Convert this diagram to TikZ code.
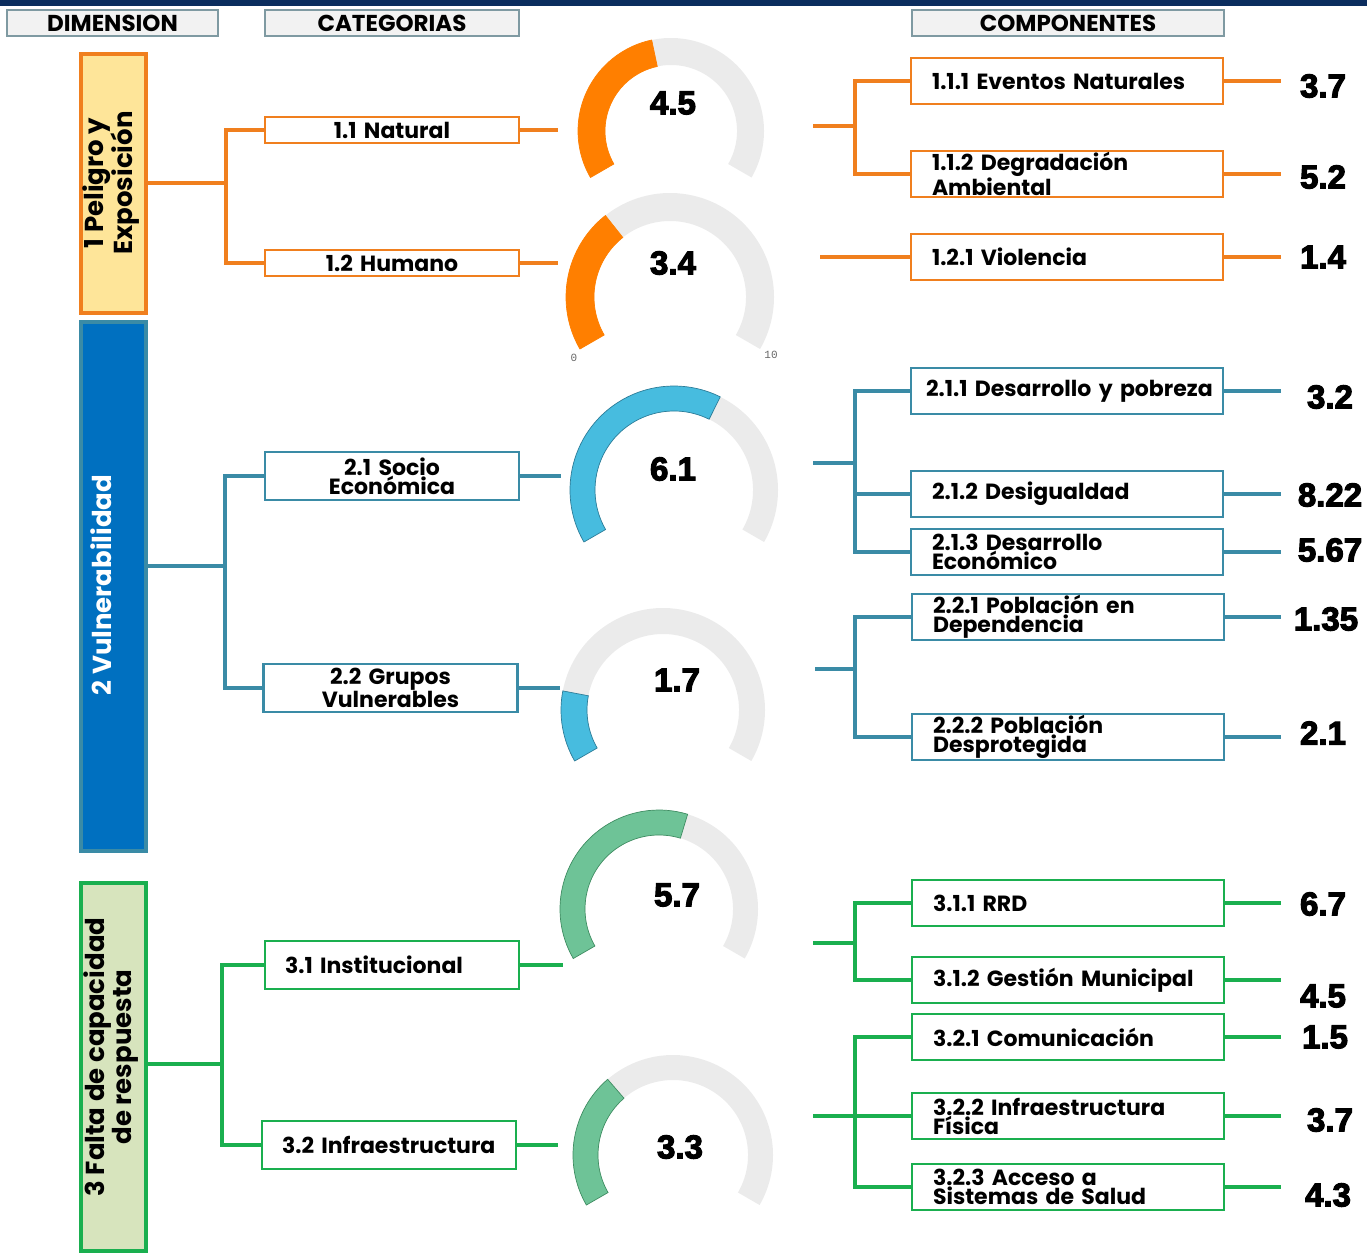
\documentclass[tikz,border=0pt]{standalone}
\usepackage{fontspec}
\setmainfont{Poppins}
\newfontfamily\numfont{Liberation Sans}[BoldFeatures={FakeBold=3.5}]
\newfontfamily\tickfont{Liberation Mono}
\definecolor{navy}{HTML}{0B2D5E}
\definecolor{hdrfill}{HTML}{F2F2F2}
\definecolor{hdrline}{HTML}{7F9AA2}
\definecolor{orgline}{HTML}{F07F1E}
\definecolor{orgfill}{HTML}{FEE599}
\definecolor{orggauge}{HTML}{FF7F00}
\definecolor{tealline}{HTML}{3A8BA6}
\definecolor{bluefill}{HTML}{0070C0}
\definecolor{bluegauge}{HTML}{47BCDF}
\definecolor{blueedge}{HTML}{2D7D99}
\definecolor{grnline}{HTML}{1AAF4F}
\definecolor{grnfill}{HTML}{D7E4BD}
\definecolor{grngauge}{HTML}{6EC397}
\definecolor{grnedge}{HTML}{3F8D62}
\definecolor{gaugegray}{HTML}{EBEBEB}
\newcommand{\mygauge}[6]{%
  \begin{scope}[shift={#1},yscale=-1]
    \fill[gaugegray] (210:#2) arc[start angle=210,end angle=-30,radius=#2]
      -- (-30:#3) arc[start angle=-30,end angle=210,radius=#3] -- cycle;
    \filldraw[fill=#5,draw=#6,line width=0.7pt] (210:#2) arc[start angle=210,end angle={210-24*#4},radius=#2]
      -- ({210-24*#4}:#3) arc[start angle={210-24*#4},end angle=210,radius=#3] -- cycle;
  \end{scope}}
\begin{document}
\begin{tikzpicture}[x=1pt,y=-1pt,
  con/.style={draw=#1,line width=4pt,line join=miter},
  hdr/.style={draw=hdrline,line width=2pt,fill=hdrfill,minimum width=#1,minimum height=26pt,inner sep=0pt,font=\bfseries\fontsize{23}{23}\selectfont},
  dimbox/.style 2 args={draw=#1,fill=#2,line width=4pt,minimum width=65pt,inner sep=0pt},
  dimtxt/.style={rotate=90,align=center,font=\bfseries\fontsize{26}{23}\selectfont},
  cat/.style={draw=#1,line width=2.5pt,fill=white,inner sep=0pt,minimum width=254pt,text width=230pt,align=center,minimum height=26pt,font=\bfseries\fontsize{22}{19}\selectfont},
  catl/.style={draw=#1,line width=2.5pt,fill=white,inner ysep=0pt,inner xsep=20pt,text width=214pt,align=left,minimum height=48pt,font=\bfseries\fontsize{22}{19}\selectfont},
  comp/.style={draw=#1,line width=2.5pt,fill=white,inner ysep=0pt,inner xsep=21pt,text width=270pt,align=left,minimum height=46pt,font=\bfseries\fontsize{22}{19}\selectfont},
  gnum/.style={font=\numfont\bfseries\fontsize{33}{33}\selectfont,inner sep=0pt},
  val/.style={font=\numfont\bfseries\fontsize{33}{33}\selectfont,inner sep=0pt},
  tick/.style={font=\tickfont\fontsize{11}{11}\selectfont,text=black!60,inner sep=0pt}]
\useasboundingbox (0,0) rectangle (1367,1254);
\fill[navy] (0,0) rectangle (1367,6);
% headers
\node[hdr=211pt] (hd) at (112.5,23) {DIMENSION};
\node[hdr=254pt] (hc) at (392,23) {CATEGORIAS};
\node[hdr=312pt] (hk) at (1068,23) {COMPONENTES};
% dimensions
\node[dimbox={orgline}{orgfill},minimum height=259pt] (d1) at (113.5,183.5) {};
\node[dimtxt] (d1t) at (111,183) {1 Peligro y\\Exposición};
\node[dimbox={tealline}{bluefill},minimum height=529pt] (d2) at (113.5,586.5) {};
\node[dimtxt,text=white] (d2t) at (101,585) {2 Vulnerabilidad};
\node[dimbox={grnline}{grnfill},minimum height=368pt] (d3) at (113.5,1067) {};
\node[dimtxt] (d3t) at (111,1057) {3 Falta de capacidad\\de respuesta};
% categories
\node[cat=orgline] (c11) at (392,130) {1.1 Natural};
\node[cat=orgline] (c12) at (392,263) {1.2 Humano};
\node[cat=tealline,minimum height=48pt] (c21) at (392,476) {2.1 Socio\\Económica};
\node[cat=tealline,minimum height=48pt] (c22) at (390.5,688) {2.2 Grupos\\Vulnerables};
\node[catl=grnline] (c31) at (392,965) {3.1 Institucional};
\node[catl=grnline] (c32) at (389,1145) {3.2 Infraestructura};
% components
\node[comp=orgline] (k111) at (1067,81) {1.1.1 Eventos Naturales};
\node[comp=orgline] (k112) at (1067,174) {1.1.2 Degradación\\Ambiental};
\node[comp=orgline] (k121) at (1067,257) {1.2.1 Violencia};
\node[comp=tealline,inner xsep=15pt,text width=282pt] (k211) at (1067,391) {\mbox{2.1.1 Desarrollo y pobreza}};
\node[comp=tealline] (k212) at (1067,494) {2.1.2 Desigualdad};
\node[comp=tealline] (k213) at (1067,552) {2.1.3 Desarrollo\\Económico};
\node[comp=tealline] (k221) at (1068,617) {2.2.1 Población en\\Dependencia};
\node[comp=tealline] (k222) at (1068,737) {2.2.2 Población\\Desprotegida};
\node[comp=grnline] (k311) at (1068,903) {3.1.1 RRD};
\node[comp=grnline] (k312) at (1068,980) {3.1.2 Gestión Municipal};
\node[comp=grnline] (k321) at (1068,1037) {3.2.1 Comunicación};
\node[comp=grnline] (k322) at (1068,1116) {3.2.2 Infraestructura\\Física};
\node[comp=grnline] (k323) at (1068,1187) {3.2.3 Acceso a\\Sistemas de Salud};
% gauges
\mygauge{(671,131)}{93}{66}{4.5}{orggauge}{orggauge}
\mygauge{(670,297)}{104}{76}{3.4}{orggauge}{orggauge}
\mygauge{(674,490)}{104}{79}{6.1}{bluegauge}{blueedge}
\mygauge{(663,710)}{102}{76}{1.7}{bluegauge}{blueedge}
\mygauge{(659,909)}{99}{74}{5.7}{grngauge}{grnedge}
\mygauge{(673,1155)}{100}{75}{3.3}{grngauge}{grnedge}
\node[gnum] (g1) at (673,103) {4.5};
\node[gnum] (g2) at (673,263) {3.4};
\node[gnum] (g3) at (673,469) {6.1};
\node[gnum] (g4) at (677,680) {1.7};
\node[gnum] (g5) at (677,895) {5.7};
\node[gnum] (g6) at (680,1147) {3.3};
\node[tick] (t0) at (574,358) {0};
\node[tick] (t10) at (771,355) {10};
% values
\node[val] (v111) at (1323,86) {3.7};
\node[val] (v112) at (1323,177) {5.2};
\node[val] (v121) at (1323,257) {1.4};
\node[val] (v211) at (1330,397) {3.2};
\node[val] (v212) at (1330,495) {8.22};
\node[val] (v213) at (1330,550) {5.67};
\node[val] (v221) at (1326,619) {1.35};
\node[val] (v222) at (1323,733) {2.1};
\node[val] (v311) at (1323,904) {6.7};
\node[val] (v312) at (1323,996) {4.5};
\node[val] (v321) at (1325,1037) {1.5};
\node[val] (v322) at (1330,1120) {3.7};
\node[val] (v323) at (1328,1195) {4.3};
% coordinates
\coordinate (J1) at (226,183);
\coordinate (J2) at (225,566);
\coordinate (J3) at (222,1064);
\coordinate (e11) at (558,130);
\coordinate (e12) at (558,263);
\coordinate (e21) at (561,476);
\coordinate (e22) at (560,688);
\coordinate (e31) at (563,965);
\coordinate (e32) at (558,1145);
\coordinate (t11) at (813,126);
\coordinate (j11) at (855,126);
\coordinate (t12) at (820,257);
\coordinate (t21) at (813,463);
\coordinate (j21) at (855,463);
\coordinate (t22) at (815,669);
\coordinate (j22) at (855,669);
\coordinate (t31) at (813,943);
\coordinate (j31) at (855,943);
\coordinate (t32) at (813,1116);
\coordinate (j32) at (855,1116);
\coordinate (xr) at (1281,0);
% connectors group 1
\draw[con=orgline] (d1.east |- J1) -- (J1);
\draw[con=orgline] (c11.west) -| (J1) |- (c12.west);
\draw[con=orgline] (c11.east) -- (e11);
\draw[con=orgline] (c12.east) -- (e12);
\draw[con=orgline] (t11) -- (j11);
\draw[con=orgline] (k111.west) -| (j11) |- (k112.west);
\draw[con=orgline] (t12) -- (k121.west);
\foreach \k in {k111,k112,k121}{\draw[con=orgline] (\k.east) -- (\k.east -| xr);}
% connectors group 2
\draw[con=tealline] (d2.east |- J2) -- (J2);
\draw[con=tealline] (c21.west) -| (J2) |- (c22.west);
\draw[con=tealline] (c21.east) -- (e21);
\draw[con=tealline] (c22.east) -- (e22);
\draw[con=tealline] (t21) -- (j21);
\draw[con=tealline] (k211.west) -| (j21) |- (k213.west);
\draw[con=tealline] (j21 |- k212.west) -- (k212.west);
\draw[con=tealline] (t22) -- (j22);
\draw[con=tealline] (k221.west) -| (j22) |- (k222.west);
\foreach \k in {k211,k212,k213,k221,k222}{\draw[con=tealline] (\k.east) -- (\k.east -| xr);}
% connectors group 3
\draw[con=grnline] (d3.east |- J3) -- (J3);
\draw[con=grnline] (c31.west) -| (J3) |- (c32.west);
\draw[con=grnline] (c31.east) -- (e31);
\draw[con=grnline] (c32.east) -- (e32);
\draw[con=grnline] (t31) -- (j31);
\draw[con=grnline] (k311.west) -| (j31) |- (k312.west);
\draw[con=grnline] (t32) -- (k322.west);
\draw[con=grnline] (k321.west) -| (j32) |- (k323.west);
\foreach \k in {k311,k312,k321,k322,k323}{\draw[con=grnline] (\k.east) -- (\k.east -| xr);}
\end{tikzpicture}
\end{document}
